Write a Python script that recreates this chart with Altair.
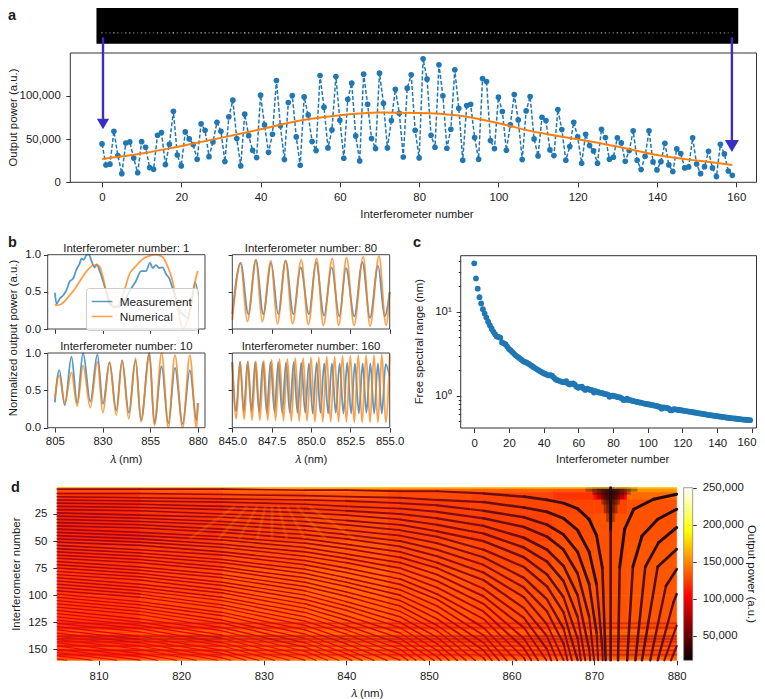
import altair as alt
import pandas as pd

FONT = "Liberation Sans"
BLUE, ORANGE, ARROW = "#1f77b4", "#ff7f0e", "#3a2dc4"
LAM = "\U0001D706 (nm)"
W, H = 749, 691
FS = 11.4

POWER = [44400,20000,21000,59000,31000,10000,45500,46700,28000,11000,47000,40500,17000,15000,54400,57500,20500,44000,82200,31600,
 19000,58300,50200,43600,26600,67600,60200,29700,46700,69500,59000,24000,75700,95000,50600,19000,78800,54000,37000,28600,
 100800,66400,34700,55600,117800,65300,26300,92300,100400,52500,19700,98800,78000,47100,36700,123600,86900,39800,60600,122400,
 71800,27800,96100,114700,53700,24700,125100,90300,50600,39000,126300,91500,39800,71400,107700,79900,29300,108900,124300,60200,
 28200,142900,119300,54400,40500,135900,100000,39400,61400,130100,85700,25500,88800,90300,51700,26600,120100,116600,48300,39000,
 98500,81900,37100,66400,101500,72200,26300,82600,99200,50200,30500,75300,71400,37500,30900,84200,61000,25500,41300,69500,
 52500,22000,55600,42500,36300,22000,61400,51700,26600,29000,51400,45600,24300,36700,59500,25500,14700,30100,59500,23600,
 14300,23900,45200,20100,12400,38600,33200,16600,17800,51400,21200,10000,18100,35900,16600,6600,44000,32800,13100,8100]
FIT_N = [0,10,20,30,40,50,60,70,80,90,100,110,120,130,140,150,159]
FIT_P = [27000,33200,42100,51400,61400,71400,77600,80700,80300,77200,68300,57500,49800,41300,31700,25100,20100]

FSR = [37.6,24.9,18.8,14.9,12.5,10.7,9.5,8.5,7.6,6.9,6.3,5.8,5.4,5.05,5.0,4.9,4.3,4.2,4.1,3.85,
 3.6,3.45,3.3,3.15,3.0,2.9,2.8,2.7,2.6,2.52,2.48,2.42,2.35,2.27,2.2,2.13,2.07,2.01,1.95,1.9,
 1.85,1.81,1.77,1.74,1.75,1.72,1.63,1.56,1.53,1.5,1.47,1.45,1.45,1.49,1.4,1.36,1.39,1.4,1.35,1.28,
 1.24,1.27,1.28,1.22,1.17,1.21,1.19,1.17,1.16,1.09,1.13,1.11,1.09,1.08,1.07,1.05,1.04,1.03,.97,1.0,
 1.0,.985,.97,.96,.95,.93,.885,.89,.92,.89,.885,.87,.86,.85,.84,.83,.825,.815,.805,.795,
 .79,.785,.775,.77,.76,.755,.745,.735,.7,.725,.72,.715,.705,.67,.67,.69,.685,.68,.675,.67,
 .665,.66,.655,.65,.645,.64,.635,.63,.625,.62,.615,.61,.605,.60,.595,.59,.586,.582,.578,.574,
 .57,.566,.562,.558,.554,.55,.546,.543,.54,.537,.534,.531,.528,.525,.522,.519,.517,.515,.513,.511]

B1_M_X = [805,805.9,807.6,809.3,811,812.8,814.6,816.3,818,819,820,821.9,823,824,825.9,827,828.5,830.2,832,834,836.3,839,841.5,844,847.6,850.2,852.8,854.9,856.3,858,859.7,861.5,863.3,865,866.7,868.5,870.2,872,874.6,876.3,878.6,880]
B1_M_Y = [.49,.34,.41,.45,.52,.64,.68,.8,.88,.95,.93,1.0,1.0,.93,.83,.87,.78,.65,.5,.33,.3,.3,.38,.5,.65,.78,.78,.89,.82,.86,.82,.83,.74,.68,.55,.4,.25,.2,.15,.3,.63,.45]
B1_N_X = [805,806,808,810,812,814,816,818,820,822,824,825,827,828.5,830.2,832,833.7,836.3,839,841.5,844,847.6,851,854.6,858,861.5,864,866.7,869.3,872.3,874.6,876.9,878.9,880]
B1_N_Y = [.33,.32,.33,.37,.43,.49,.56,.64,.72,.79,.84,.86,.86,.84,.7,.5,.38,.29,.35,.52,.73,.85,.94,.985,1.0,.97,.85,.65,.3,0,.12,.4,.68,.78]

B2_M_X = [805,807.3,810.2,813.7,816.7,819.8,823.6,827.3,830.2,833.7,837.2,840.3,843.8,847.3,850.2,854.6,857.2,861,864.5,868,872,875.8,879.3,880]
B2_M_Y = [.34,.77,.3,.95,.33,1.0,.35,.98,.32,.87,.23,.9,.2,.9,.1,1.0,.06,.82,.06,.8,.05,.77,.1,.33]
B2_N_X = [805,807.3,810.2,813.7,816.7,819.8,823.6,827.3,830.2,833.7,837.2,840.3,843.8,847.3,850.2,854.6,857.2,861,864.5,868,872,875.8,879.3,880]
B2_N_Y = [.4,.7,.33,.74,.29,.83,.27,.88,.2,.88,.17,.9,.12,.93,.08,.98,.03,1.0,0,.97,0,.97,0,.33]

B3_M_X = [845,845.53,846.02,846.5,846.97,847.46,847.92,848.39,848.88,849.34,849.87,850.32,850.83,851.31,851.8,852.22,852.75,853.26,853.75,854.26,854.68,855]
B3_M_Y = [.2,.89,.2,.93,.2,.89,.2,.92,.2,.83,.2,.9,.18,.83,.17,.82,.17,.9,.15,.85,.17,.5]
B3_N_X = [845,845.53,845.95,846.5,846.9,847.46,847.86,848.39,848.83,849.38,849.83,850.36,850.78,851.35,851.76,852.26,852.73,853.32,853.75,854.32,854.77,855]
B3_N_Y = [.12,.88,.1,.93,.1,.92,.07,.92,.07,.93,.06,.95,.05,.95,.05,.96,.05,.97,.04,.98,.05,.5]

B4_M_X = [845.0,845.24,845.49,845.73,845.97,846.22,846.46,846.7,846.95,847.19,847.43,847.68,847.92,848.17,848.41,848.65,848.9,849.14,849.38,849.63,849.87,850.11,850.36,850.6,850.84,851.09,851.33,851.57,851.82,852.06,852.3,852.55,852.79,853.04,853.28,853.52,853.77,854.01,854.25,854.5,854.74,854.98]
B4_M_Y = [.88,.22,.88,.21,.88,.22,.88,.21,.88,.2,.88,.21,.88,.2,.87,.2,.88,.2,.87,.2,.86,.19,.87,.2,.86,.19,.86,.2,.86,.19,.87,.19,.86,.19,.86,.2,.86,.19,.86,.19,.85,.7]
B4_N_X = [845,845.25,845.5,845.75,846,846.25,846.5,846.75,847,847.25,847.5,847.75,848,848.25,848.5,848.75,849,849.25,849.5,849.75,850,850.25,850.5,850.75,851,851.25,851.5,851.75,852,852.25,852.5,852.75,853,853.25,853.5,853.75,854,854.25,854.5,854.75,855]
B4_N_Y = [.87,.12,.88,.11,.89,.1,.89,.1,.9,.1,.91,.1,.92,.09,.92,.09,.93,.09,.93,.09,.94,.08,.94,.08,.95,.08,.95,.08,.96,.08,.96,.07,.97,.07,.97,.07,.97,.07,.98,.07,.98]

HOT_DOMAIN = [16750,103800,190700,250000]
HOT_RANGE = ["#0a0000","#ff0000","#ffff00","#ffffff"]

GRID_L = [805,815,825,835,845,855,865,870,874,880]
GRID_R = [0.7,5,12,25,50,75,100,125,160.2]
GRID_V = [[118,122,126,128,124,122,120,116,142],
 [110,114,118,120,116,114,110,104,126],
 [108,111,113,114,113,114,114,114,118],
 [108,111,114,117,114,113,116,118,118],
 [111,114,118,121,117,115,118,118,119],
 [112,116,122,125,120,117,119,118,119],
 [112,117,122,124,120,118,119,118,119],
 [110,113,117,119,116,115,117,117,117]]
DARK_CORE = [(869,875.2,.7,4),(869.8,874.4,.7,7),(870.4,873.6,1,11),(870.9,873.1,2,16),(871.2,872.8,3,24),(871.5,872.5,4,32)]
BAND_ROWS = [126,130,138,140.5,143,147,151,155]
BAND_PWR = [78000,82000,62000,62000,70000,76000,70000,78000]
BRIGHT_ROWS = [133,135.5,149,158,160]
BRIGHT_PWR = [150000,150000,145000,150000,170000]
RAY_START = [826.5,828,829.2,830.2,831,831.8,832.8,834,835.5]
RAY_END = [821,824.5,827,829.2,831,832.8,835,837.5,841]

FRINGE_L = [805,815,825,835,840,846.5,851,856.6,861.5,864.3,866.3,868,869.4,870.3,871,871.4]
FRINGE_P = [70000,70000,68000,68000,66000,64000,60000,52000,42000,36000,30000,26000,22000,22000,22000,22000]
FRINGE_W = [1.6,1.6,1.6,1.7,1.8,2,2.2,2.5,2.7,2.8,2.9,3,3,3,3,3]
ROW_LIFT = [0,0,3000,8000,12000,18000,24000,32000,32000]
ROW_WIDTH = [1,1,1,.95,.9,.85,.8,.7,.7]
FRINGES = [
 [2,2,2,3,3,4,4,6,9,12,15,20,30,45,75,160],
 [6,6,7,8,9,10,12,14,19,23,29,40,60,90,150,250],
 [9,10,11,12,13,15,17,22,28,35,44,60,90,135,225],
 [12,13,14,16,18,20,23,29,37,46,58,80,120,180],
 [15,16,18,20,22,25,29,36,47,58,73,100,150,225],
 [18,19,21,24,26,30,35,43,56,69,87,120,180],
 [21,22,25,28,31,35,41,50,65,81,102,140,210],
 [24,26,28,32,35,40,46,58,74,92,116,160],
 [27,29,32,36,40,45,52,65,84,104,131,180],
 [30,32,35,40,44,50,58,72,93,115,145,200],
 [33,35,39,44,48,55,64,79,102,127,160],
 [36,38,42,48,53,60,70,86,112,138,174],
 [39,42,46,52,57,65,75,94,121,150,189],
 [42,45,49,56,62,70,81,101,130,161],
 [45,48,53,60,66,75,87,108,140,173],
 [48,51,56,64,70,80,93,115,149,184],
 [51,54,60,68,75,85,99,122,158,196],
 [54,58,63,72,79,90,104,130,167],
 [57,61,67,76,84,95,110,137,177],
 [60,64,70,80,88,100,116,144,186],
 [63,67,74,84,92,105,122,151,195],
 [66,70,77,88,97,110,128,158,205],
 [69,74,81,92,101,115,133,166],
 [72,77,84,96,106,120,139,173],
 [75,80,88,100,110,125,145,180],
 [78,83,91,104,114,130,151,187],
 [81,86,95,108,119,135,157,194],
 [84,90,98,112,123,140,162],
 [87,93,102,116,128,145,168],
 [90,96,105,120,132,150,174],
 [93,99,109,124,136,155,180],
 [96,102,112,128,141,160],
 [99,106,116,132,145,165],
 [102,109,119,136,150,170],
 [105,112,123,140,154,175],
 [108,115,126,144,158,180],
 [111,118,130,148,163],
 [114,122,133,152,167],
 [117,125,137,156,172],
 [120,128,140,160],
 [123,131,144,164],
 [126,134,147,168],
 [129,138,151,172],
 [132,141,154,176],
 [135,144,158,180],
 [138,147,161],
 [141,150,165],
 [144,154,168],
 [147,157,172],
 [150,160],
 [153,163],
 [156,166],
 [159,170]]
RIGHT_FRINGES = [
 ([872.0,872.0,872.0],[0.7,40,160.2]),
 ([872.9,873.1,873.7,874.8,877.2,880],[160.2,74,39,20.6,11.4,6.7]),
 ([874.0,874.7,875.8,877.7,880],[160.2,73.7,45.3,29.9,20.6]),
 ([875,876.2,877.8,880],[160.2,73.7,51.4,37.5]),
 ([875.8,877.7,880],[160.2,73.7,57.6]),
 ([876.8,878.7,880],[160.2,91.5,76]),
 ([877.7,879.6,880],[160.2,106.8,99]),
 ([878.5,880],[160.2,128]),
 ([879.3,880],[160.2,147])]
ARROW_X = [0.25,158.9]
ARROW_TOP = [167600,167600]
ARROW_END = [73300,47900]
ARROW_HEAD = [67500,42000]
ARROW_SIZE = [150,200]

ONE = pd.DataFrame({"v":[0]})

def sx(dom, x0, x1, **kw):
    return alt.Scale(domain=dom, range=[x0-8, x1-8], nice=False, zero=False, **kw)
def sy(dom, y0, y1, **kw):
    return alt.Scale(domain=dom, range=[y1-8, y0-8], nice=False, zero=False, **kw)
def xaxis(vals, ypx, pad=4.7, **kw):
    return alt.Axis(orient="bottom", offset=(ypx-8)-H, values=vals, title=None, grid=False, domain=False, labelPadding=pad, labelOverlap=False, labelFlush=False, **kw)
def yaxis(vals, xpx, pad=5.5, **kw):
    return alt.Axis(orient="left", offset=-(xpx-8), values=vals, title=None, grid=False, domain=False, labelPadding=pad, labelOverlap=False, labelFlush=False, **kw)
def txt(t, x, y, angle=0, size=FS, weight="normal", align="center", baseline="alphabetic"):
    kw = dict(angle=angle) if angle else {}
    return alt.Chart(pd.DataFrame({"t":[t]})).mark_text(font=FONT, fontSize=size, fontWeight=weight, align=align, baseline=baseline, color="#1a1a1a", **kw).encode(
        text="t:N", x=alt.value(x-8), y=alt.value(y-8))
def frame(x0, y0, x1, y1, color="#333333", width=1.0):
    return alt.Chart(ONE).mark_rect(fillOpacity=0, stroke=color, strokeWidth=width).encode(
        x=alt.value(x0-8), x2=alt.value(x1-8), y=alt.value(y0-8), y2=alt.value(y1-8))

layers = []

# ---------- a ----------
ax_x = sx([-8,167],70.3,764)
ax_y = sy([0,149600],53,182.3)
adf = pd.DataFrame({"n":range(160),"p":POWER,"strip":[173000]*160})
fitdf = pd.DataFrame({"n":FIT_N,"p":FIT_P})
X0 = alt.X("n:Q", scale=ax_x, axis=None)
Y0 = alt.Y("p:Q", scale=ax_y, axis=None)
layers.append(alt.Chart(pd.DataFrame({"a":[-1.4],"b":[160.5],"c":[160200],"d":[205400]})).mark_rect(color="black").encode(
    x=alt.X("a:Q", scale=ax_x, axis=None), x2="b:Q", y=alt.Y("c:Q", scale=ax_y, axis=None), y2="d:Q"))
layers.append(alt.Chart(adf).mark_point(filled=True, color="white", size=3).encode(
    x=X0, y=alt.Y("strip:Q", scale=ax_y, axis=None),
    opacity=alt.Opacity("p:Q", scale=alt.Scale(domain=[0,150000], range=[.2,1]), legend=None)))
layers.append(alt.Chart(adf).mark_line(color=BLUE, strokeDash=[4,2], strokeWidth=1.5).encode(
    x=alt.X("n:Q", scale=ax_x, axis=xaxis(list(range(0,161,20)),182.3,tickSize=4.5)),
    y=alt.Y("p:Q", scale=ax_y, axis=yaxis([0,50000,100000],70.3,format=",.0f",tickSize=4.5))))
layers.append(alt.Chart(adf).mark_point(filled=True, color=BLUE, size=32, opacity=1).encode(x=X0, y=Y0))
layers.append(alt.Chart(fitdf).mark_line(color=ORANGE, strokeWidth=2, interpolate="monotone").encode(x=X0, y=Y0))
ardf = pd.DataFrame({"x":ARROW_X,"t":ARROW_TOP,"e":ARROW_END,"h":ARROW_HEAD,"s":ARROW_SIZE})
layers.append(frame(70.3,53,756.5,182.3))
layers.append(alt.Chart(ardf).mark_rule(color=ARROW, strokeWidth=2.4).encode(
    x=alt.X("x:Q", scale=ax_x, axis=None), y=alt.Y("t:Q", scale=ax_y, axis=None), y2="e:Q"))
layers.append(alt.Chart(ardf).mark_point(shape="triangle-down", filled=True, color=ARROW, opacity=1).encode(
    x=alt.X("x:Q", scale=ax_x, axis=None), y=alt.Y("h:Q", scale=ax_y, axis=None), size=alt.Size("s:Q", scale=None, legend=None)))
layers += [txt("a",8,20,size=14.5,weight="bold",align="left"),
           txt("Interferometer number",417,218),
           txt("Output power (a.u.)",14,117.5,angle=270,baseline="middle")]

# ---------- b ----------
def bpanel(mx,my,nx,ny,dom,title,xvals,xlab,ylab,x0,y0,x1,y1,legend=False,xfmt=None):
    df = pd.concat([pd.DataFrame({"l":mx,"v":my,"s":"Measurement"}),pd.DataFrame({"l":nx,"v":ny,"s":"Numerical"})])
    xkw = dict(labels=xlab, tickSize=4.3)
    if xfmt: xkw["format"]=xfmt
    leg = alt.Legend(orient="none", legendX=78, legendY=280, title=None, symbolType="M-1.2,0H2", symbolStrokeWidth=1.5, symbolSize=169,
                     padding=6, labelFontSize=11.8, labelFont=FONT, labelOffset=12.7, rowPadding=0, fillColor="rgba(255,255,255,0.8)",
                     strokeColor="#cccccc", cornerRadius=3, labelColor="#1a1a1a") if legend else None
    out = [alt.Chart(df).mark_line(strokeWidth=1.8, opacity=.75, interpolate="monotone").encode(
        x=alt.X("l:Q", scale=sx(dom,x0,x1), axis=xaxis(xvals,y1,pad=3.8,**xkw)),
        y=alt.Y("v:Q", scale=sy([0,1],y0,y1), axis=yaxis([0,.5,1],x0,pad=2.7,format=".1f",labels=ylab,tickSize=4.3)),
        color=alt.Color("s:N", scale=alt.Scale(domain=["Measurement","Numerical"],range=[BLUE,ORANGE]), legend=leg))]
    out.append(frame(x0,y0,x1,y1,color="#444444"))
    out.append(txt(title,(x0+x1)/2,y0-3))
    return out
T1=[805,830,855,880]
T2=[845,847.5,850,852.5,855]
DB1=[801.25,883.75]
layers += bpanel(B1_M_X,B1_M_Y,B1_N_X,B1_N_Y,DB1,"Interferometer number: 1",T1,False,True,47.7,254.7,205,329,legend=True)
layers += bpanel(B2_M_X,B2_M_Y,B2_N_X,B2_N_Y,DB1,"Interferometer number: 10",T1,True,True,47.7,353,205,427.7)
layers += bpanel(B3_M_X,B3_M_Y,B3_N_X,B3_N_Y,[845,855],"Interferometer number: 80",T2,False,False,232.3,254.7,389.7,329)
layers += bpanel(B4_M_X,B4_M_Y,B4_N_X,B4_N_Y,[845,855],"Interferometer number: 160",T2,True,False,232.3,353,389.7,427.7,xfmt=".1f")
layers += [txt("b",8,247,size=14.5,weight="bold",align="left"),
           txt("Normalized output power (a.u.)",14,338,angle=270,baseline="middle"),
           txt(LAM,126,463), txt(LAM,311,463)]

# ---------- c ----------
cdf = pd.DataFrame({"n":range(160),"f":FSR})
layers.append(alt.Chart(cdf).mark_point(filled=True, color=BLUE, size=34, opacity=1).encode(
    x=alt.X("n:Q", scale=sx([-7.8,167],460.7,764), axis=xaxis(list(range(0,161,20)),428,pad=4.5,tickSize=4.5,labelExpr="datum.value==160?'':datum.label")),
    y=alt.Y("f:Q", scale=sy([.412,46.4],255.7,428,type="log"), axis=yaxis([.5,.6,.7,.8,.9,1,2,3,4,5,6,7,8,9,10,20,30,40],460.7,pad=5,
        labelExpr="datum.value==10?'10\u00b9':datum.value==1?'10\u2070':''",
        tickSize={"condition":{"test":"datum.value==1||datum.value==10","value":4.5},"value":2.5}))))
layers += [frame(460.7,255.7,756.5,428),
           txt("160",756.5,446,align="right"),
           txt("c",413,247,size=14.5,weight="bold",align="left"),
           txt("Interferometer number",612.7,463),
           txt("Free spectral range (nm)",420,341.7,angle=270,baseline="middle")]

# ---------- d ----------
hot = alt.Scale(domain=HOT_DOMAIN, range=HOT_RANGE)
dx = sx([805,880],57.3,676.7)
dy = alt.Scale(domain=[0.7,160.2], range=[487.7-8,660.3-8], nice=False, zero=False)
rows=[]
for i in range(len(GRID_R)-1):
    for j in range(len(GRID_L)-1):
        rows.append(dict(l0=GRID_L[j],l1=GRID_L[j+1],r0=GRID_R[i],r1=GRID_R[i+1],v=GRID_V[i][j]*1000,o=1))
for a,b,c,d in DARK_CORE:
    rows.append(dict(l0=a,l1=b,r0=c,r1=d,v=24000,o=.35))
for r,p in zip(BAND_ROWS,BAND_PWR):
    rows.append(dict(l0=805,l1=880,r0=r-.5,r1=r+.5,v=p,o=.5))
for r,p in zip(BRIGHT_ROWS,BRIGHT_PWR):
    rows.append(dict(l0=805,l1=880,r0=r-.5,r1=min(r+.5,160.2),v=p,o=.35))
rows.append(dict(l0=805,l1=880,r0=.7,r1=1.2,v=175000,o=.8))
segs=[]
def add_seg(l0,l1,r0,r1,v,w):
    if r0 >= 160.2 and r1 >= 160.2:
        return
    if r1 > 160.2:
        l1 = l0+(l1-l0)*(160.2-r0)/(r1-r0); r1 = 160.2
    if r0 > 160.2:
        l0 = l1+(l0-l1)*(160.2-r1)/(r0-r1); r0 = 160.2
    b = int(min((r0+r1)/2,159)//20)
    segs.append(dict(l0=l0,l1=l1,r0=r0,r1=r1,v=v+ROW_LIFT[b],w=w*ROW_WIDTH[b]))
for fr in FRINGES:
    for k in range(len(fr)-1):
        add_seg(FRINGE_L[k],FRINGE_L[k+1],fr[k],fr[k+1],FRINGE_P[k],FRINGE_W[k])
for ls,rs in RIGHT_FRINGES:
    for k in range(len(ls)-1):
        add_seg(ls[k],ls[k+1],rs[k],rs[k+1],24000,3)
layers.append(alt.Chart(pd.DataFrame(rows)).mark_rect(strokeWidth=.6).encode(
    x=alt.X("l0:Q", scale=dx, axis=xaxis(list(range(810,881,10)),660.3,pad=5.5,tickSize=4.5)),
    x2="l1:Q",
    y=alt.Y("r0:Q", scale=dy, axis=yaxis([25,50,75,100,125,150],57.3,pad=6,tickSize=4.5)),
    y2="r1:Q",
    color=alt.Color("v:Q", scale=hot, legend=None),
    opacity=alt.Opacity("o:Q", scale=None, legend=None),
    stroke=alt.Stroke("v:Q", scale=hot, legend=None)))
raydf = pd.DataFrame({"a":RAY_START,"b":RAY_END,"c":[18]*len(RAY_END),"d":[48]*len(RAY_END),"v":[155000]*len(RAY_END)})
layers.append(alt.Chart(pd.DataFrame(segs)).mark_rule(strokeCap="round").encode(
    x=alt.X("l0:Q", scale=dx, axis=None), x2="l1:Q", y=alt.Y("r0:Q", scale=dy, axis=None), y2="r1:Q",
    color=alt.Color("v:Q", scale=hot, legend=None), strokeWidth=alt.StrokeWidth("w:Q", scale=None, legend=None)))
layers.append(alt.Chart(raydf).mark_rule(strokeWidth=3, opacity=.18).encode(
    x=alt.X("a:Q", scale=dx, axis=None), x2="b:Q", y=alt.Y("c:Q", scale=dy, axis=None), y2="d:Q",
    color=alt.Color("v:Q", scale=hot, legend=None)))
layers += [txt("d",11,492,size=14.5,weight="bold",align="left"),
           txt(LAM,367,696.7),
           txt("Interferometer number",16.7,574.2,angle=270,baseline="middle")]

t = lambda v:(v-HOT_DOMAIN[0])/(HOT_DOMAIN[-1]-HOT_DOMAIN[0])
stops=[{"offset":t(v),"color":c} for v,c in zip(HOT_DOMAIN,HOT_RANGE)]
layers.append(alt.Chart(pd.DataFrame({"a":[16750],"b":[250000]})).mark_rect(
    fill={"gradient":"linear","x1":0,"y1":1,"x2":0,"y2":0,"stops":stops}).encode(
    x=alt.value(683.7-8), x2=alt.value(692.7-8),
    y=alt.Y("a:Q", scale=sy([16750,250000],487.7,660.3), axis=alt.Axis(orient="right", offset=(692.7-8)-W, values=[50000,100000,150000,200000,250000],
        format=",.0f", grid=False, title=None, domain=False, labelPadding=6, tickSize=3.5, labelFlush=False)),
    y2="b:Q"))
layers += [frame(683.7,487.7,692.7,660.3,color="#777777",width=.7),
           txt("Output power (a.u.)",751,574,angle=90,baseline="middle")]

chart = (alt.layer(*layers)
  .resolve_scale(x="independent",y="independent",color="independent",opacity="independent",size="independent",strokeWidth="independent",stroke="independent")
  .resolve_axis(x="independent",y="independent")
  .properties(width=W,height=H,autosize=alt.AutoSizeParams(type="none"),padding=0,view=alt.ViewBackground(stroke="transparent"))
  .configure_axis(labelFont=FONT,labelFontSize=FS,labelColor="#1a1a1a",tickColor="#333333"))
chart.save("out.html", embed_options={"renderer":"svg","actions":False})
